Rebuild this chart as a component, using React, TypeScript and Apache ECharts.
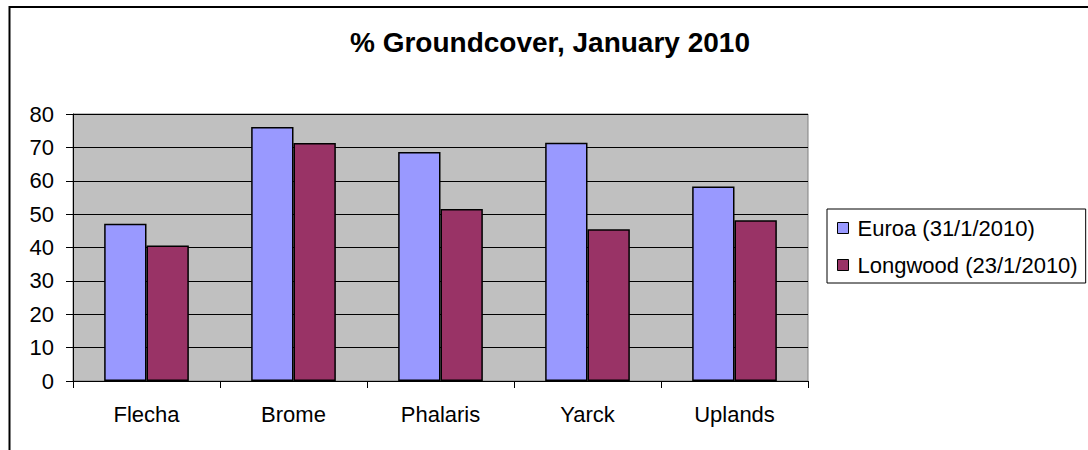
import React, { useEffect, useRef } from "react";
import * as echarts from "echarts";

const categories = ["Flecha", "Brome", "Phalaris", "Yarck", "Uplands"];
const euroa = [47.1, 76.1, 68.6, 71.4, 58.3];
const longwood = [40.6, 71.3, 51.5, 45.5, 48.2];
const seriesNames = ["Euroa (31/1/2010)", "Longwood (23/1/2010)"];
const titleText = "% Groundcover, January 2010";

const FONT = "'Liberation Sans', Arial, sans-serif";

export default function App() {
  const ref = useRef<HTMLDivElement>(null);
  useEffect(() => {
    if (!ref.current) return;
    const chart = echarts.init(ref.current, null, { renderer: "svg" });
    chart.setOption({
      animation: false,
      backgroundColor: "#ffffff",
      textStyle: { fontFamily: FONT },
      graphic: [
        {
          type: "rect",
          shape: { x: 9.5, y: 7, width: 1300, height: 700 },
          style: { fill: "none", stroke: "#000", lineWidth: 2 },
          silent: true,
          z: 10,
        },
        {
          type: "text",
          x: 550,
          y: 42,
          style: {
            text: titleText,
            fontFamily: FONT,
            fontSize: 28,
            fontWeight: "bold",
            fill: "#000",
            textAlign: "center",
            textVerticalAlign: "middle",
          },
        },
      ],
      legend: {
        orient: "vertical",
        left: 827,
        top: 209,
        padding: [8, 8, 7, 10],
        itemGap: 15,
        itemWidth: 11,
        itemHeight: 11,
        borderColor: "#000",
        borderWidth: 1,
        icon: "rect",
        itemStyle: { borderColor: "#000", borderWidth: 1 },
        textStyle: { fontFamily: FONT, fontSize: 22, color: "#000", padding: [0, 0, 0, 4] },
        data: seriesNames,
      },
      grid: {
        left: 73,
        top: 114,
        width: 735,
        height: 267,
        show: true,
        backgroundColor: "#C0C0C0",
        borderColor: "#808080",
        borderWidth: 1,
        containLabel: false,
      },
      xAxis: {
        type: "category",
        data: categories,
        axisLine: { lineStyle: { color: "#000", width: 1 } },
        axisTick: { show: true, length: 7, lineStyle: { color: "#000" } },
        axisLabel: { fontFamily: FONT, fontSize: 22, color: "#000", margin: 22 },
        splitLine: { show: false },
      },
      yAxis: {
        type: "value",
        min: 0,
        max: 80,
        interval: 10,
        axisLine: { show: true, lineStyle: { color: "#000", width: 1 } },
        axisTick: { show: true, length: 7, lineStyle: { color: "#000" } },
        axisLabel: { fontFamily: FONT, fontSize: 22, color: "#000", margin: 19 },
        splitLine: { show: true, lineStyle: { color: "#000", width: 1 } },
      },
      series: [
        {
          name: seriesNames[0],
          type: "bar",
          data: euroa,
          barGap: "0%",
          barCategoryGap: "42.4%",
          itemStyle: { color: "#9999FF", borderColor: "#000", borderWidth: 1.5 },
        },
        {
          name: seriesNames[1],
          type: "bar",
          data: longwood,
          barGap: "0%",
          barCategoryGap: "42.4%",
          itemStyle: { color: "#993366", borderColor: "#000", borderWidth: 1.5 },
        },
      ],
    });
    return () => chart.dispose();
  }, []);
  return (
    <div
      ref={ref}
      style={{ position: "fixed", left: 0, top: 0, width: 1088, height: 450 }}
    />
  );
}
